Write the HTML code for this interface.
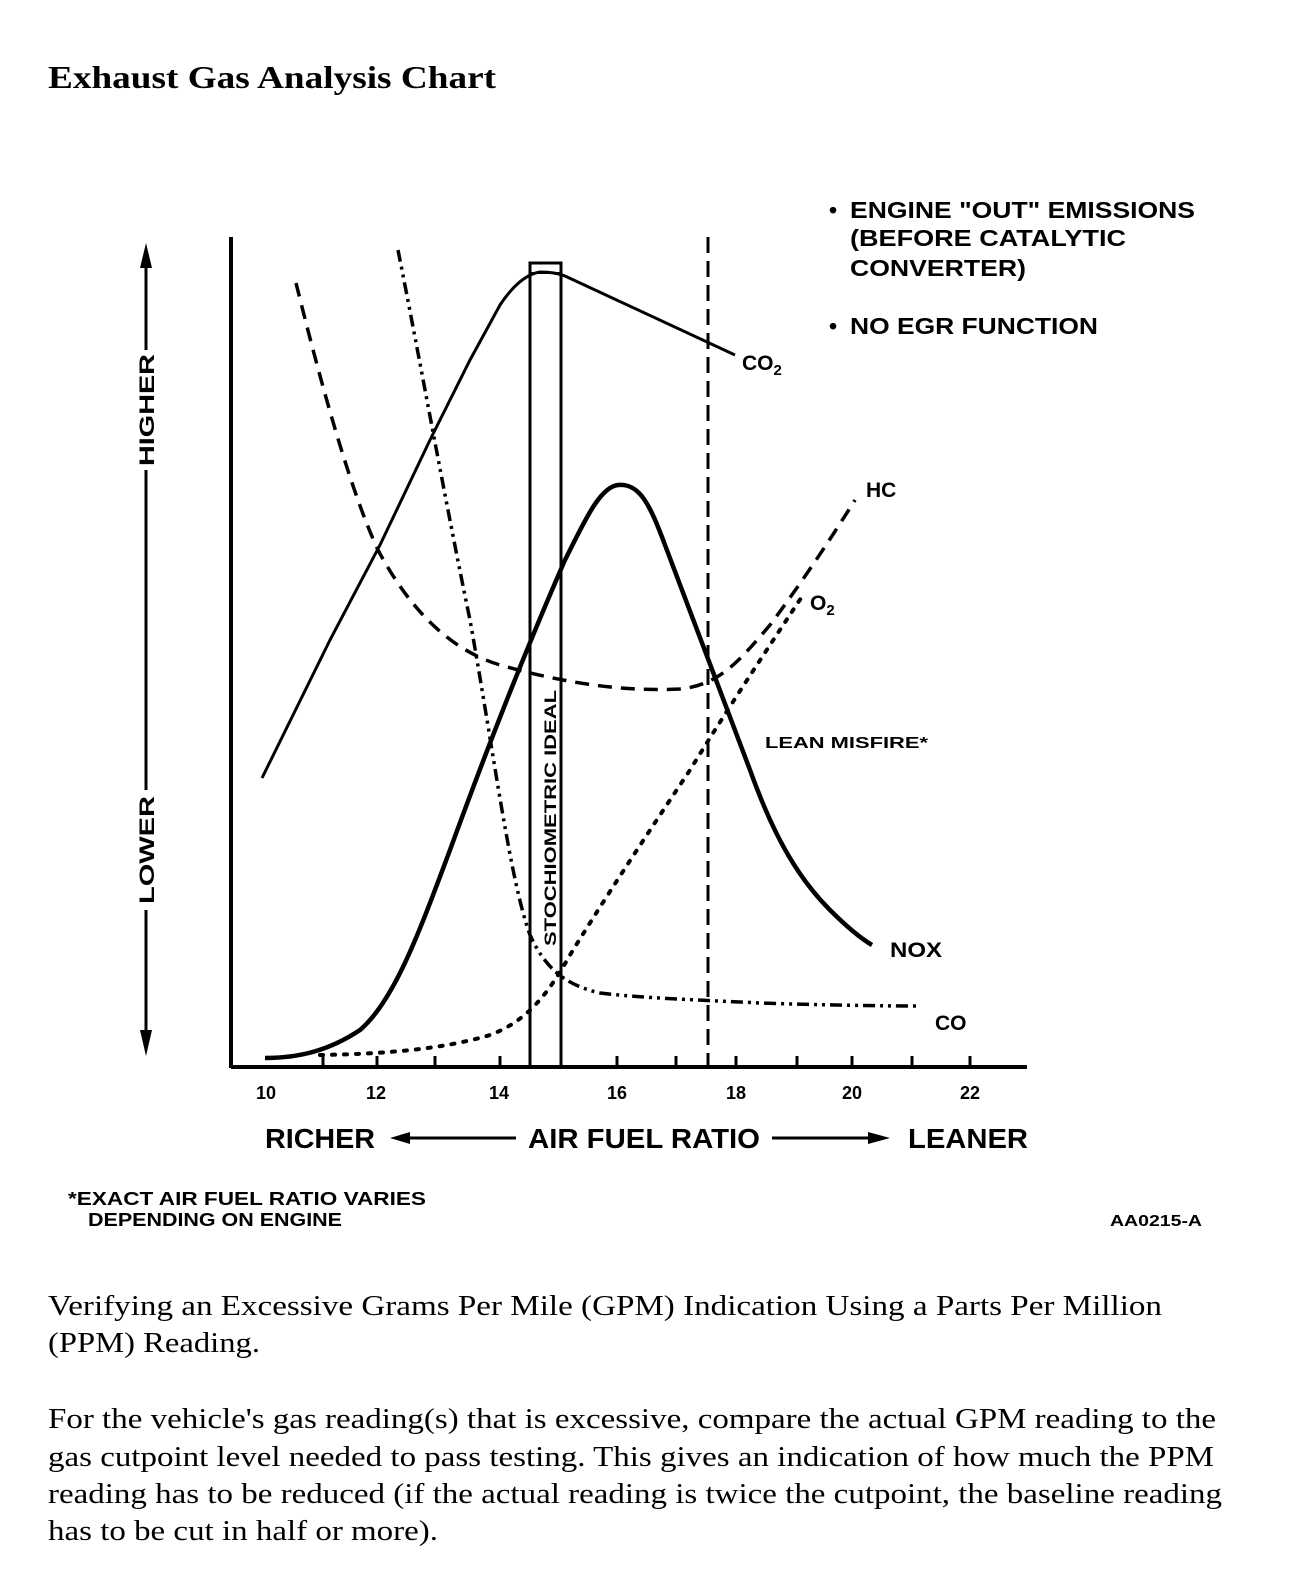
<!DOCTYPE html>
<html><head><meta charset="utf-8"><style>
html,body{margin:0;padding:0;background:#fff;}
svg{display:block;}
.t{font-family:"Liberation Serif",serif;}
.s{font-family:"Liberation Sans",sans-serif;font-weight:bold;}
</style></head><body>
<svg width="1312" height="1584" viewBox="0 0 1312 1584" xmlns="http://www.w3.org/2000/svg">
<text class="t" x="48" y="88" font-size="32" font-weight="bold" textLength="448" lengthAdjust="spacingAndGlyphs">Exhaust Gas Analysis Chart</text>

<!-- left arrow axis -->
<g stroke="#000" stroke-width="3" fill="none">
<line x1="146" y1="262" x2="146" y2="350"/>
<line x1="146" y1="470" x2="146" y2="790"/>
<line x1="146" y1="910" x2="146" y2="1035"/>
</g>
<polygon points="146,243 140,268 152,268" fill="#000"/>
<polygon points="146,1056 140,1030 152,1030" fill="#000"/>
<text class="s" transform="translate(154,410) rotate(-90)" font-size="21" text-anchor="middle" textLength="112" lengthAdjust="spacingAndGlyphs">HIGHER</text>
<text class="s" transform="translate(154,850) rotate(-90)" font-size="21" text-anchor="middle" textLength="108" lengthAdjust="spacingAndGlyphs">LOWER</text>

<!-- axes -->
<g stroke="#000" fill="none">
<line x1="231" y1="237" x2="231" y2="1068" stroke-width="4"/>
<line x1="231" y1="1067" x2="1027" y2="1067" stroke-width="4"/>
<g stroke-width="3">
<line x1="323" y1="1056" x2="323" y2="1067"/><line x1="377" y1="1056" x2="377" y2="1067"/>
<line x1="435" y1="1056" x2="435" y2="1067"/><line x1="500" y1="1056" x2="500" y2="1067"/>
<line x1="617" y1="1056" x2="617" y2="1067"/><line x1="676" y1="1056" x2="676" y2="1067"/>
<line x1="736" y1="1056" x2="736" y2="1067"/><line x1="797" y1="1056" x2="797" y2="1067"/>
<line x1="852" y1="1056" x2="852" y2="1067"/><line x1="912" y1="1056" x2="912" y2="1067"/>
<line x1="970" y1="1056" x2="970" y2="1067"/>
</g>
<!-- stoich box -->
<rect x="530" y="263" width="31" height="804" stroke-width="3"/>
<line x1="530" y1="273" x2="561" y2="273" stroke-width="2"/>
<!-- lean misfire dashed -->
<line x1="708" y1="237" x2="708" y2="1067" stroke-width="3" stroke-dasharray="16,8"/>

<!-- CO2 -->
<path d="M262,778 L330,640 L380,545 L430,440 L470,360 L500,305 Q520,275 540,272 Q555,272 565,276 L735,355" stroke-width="3"/>
<!-- HC dashed -->
<path d="M296,283 C320,380 350,490 378,550 C410,610 450,650 500,665 C560,682 620,692 680,689 C720,685 740,660 770,625 C800,585 830,540 855,500" stroke-width="3.5" stroke-dasharray="14,9"/>
<!-- CO dash-dot-dot -->
<path d="M398,250 C420,360 445,500 470,620 C495,760 510,880 530,935 C545,968 565,985 600,993 C640,998 700,1000 760,1003 C820,1005 880,1006 920,1006" stroke-width="3.5" stroke-dasharray="12,5,3,5,3,5"/>
<!-- NOx -->
<path d="M265,1058 C300,1058 330,1050 360,1030 C395,1000 420,930 450,850 C490,740 530,640 565,560 C585,520 600,487 618,485 C640,483 650,505 665,545 C690,610 720,690 750,770 C775,840 800,880 830,910 C845,925 860,938 872,945" stroke-width="4.5"/>
<!-- O2 dotted -->
<path d="M320,1055 C380,1054 440,1050 490,1035 C530,1020 550,990 570,955 C610,890 650,830 690,770 C730,705 770,645 805,592" stroke-width="4" stroke-dasharray="3,9" stroke-linecap="round"/>
</g>

<text class="s" transform="translate(556,818) rotate(-90)" font-size="17" text-anchor="middle" textLength="256" lengthAdjust="spacingAndGlyphs">STOCHIOMETRIC IDEAL</text>

<!-- curve labels -->
<text class="s" x="742" y="370" font-size="21">CO<tspan font-size="15" dy="5">2</tspan></text>
<text class="s" x="866" y="497" font-size="21">HC</text>
<text class="s" x="810" y="610" font-size="21">O<tspan font-size="15" dy="5">2</tspan></text>
<text class="s" x="765" y="748" font-size="16" textLength="163" lengthAdjust="spacingAndGlyphs">LEAN MISFIRE*</text>
<text class="s" x="890" y="957" font-size="21" textLength="52" lengthAdjust="spacingAndGlyphs">NOX</text>
<text class="s" x="935" y="1030" font-size="21">CO</text>

<!-- legend -->
<g class="s" font-size="23">
<text x="829" y="218">•</text>
<text x="850" y="218" textLength="345" lengthAdjust="spacingAndGlyphs">ENGINE "OUT" EMISSIONS</text>
<text x="850" y="246" textLength="276" lengthAdjust="spacingAndGlyphs">(BEFORE CATALYTIC</text>
<text x="850" y="276" textLength="176" lengthAdjust="spacingAndGlyphs">CONVERTER)</text>
<text x="829" y="334">•</text>
<text x="850" y="334" textLength="248" lengthAdjust="spacingAndGlyphs">NO EGR FUNCTION</text>
</g>

<!-- tick labels -->
<g class="s" font-size="18" text-anchor="middle">
<text x="266" y="1099">10</text><text x="376" y="1099">12</text><text x="499" y="1099">14</text>
<text x="617" y="1099">16</text><text x="736" y="1099">18</text><text x="852" y="1099">20</text><text x="970" y="1099">22</text>
</g>
<g class="s" font-size="28">
<text x="265" y="1148" textLength="110" lengthAdjust="spacingAndGlyphs">RICHER</text>
<text x="528" y="1148" textLength="232" lengthAdjust="spacingAndGlyphs">AIR FUEL RATIO</text>
<text x="908" y="1148" textLength="120" lengthAdjust="spacingAndGlyphs">LEANER</text>
</g>
<g stroke="#000" stroke-width="3">
<line x1="400" y1="1138" x2="516" y2="1138"/>
<line x1="772" y1="1138" x2="870" y2="1138"/>
</g>
<polygon points="390,1138 410,1132 410,1144" fill="#000"/>
<polygon points="890,1138 868,1132 868,1144" fill="#000"/>

<g class="s" font-size="18">
<text x="68" y="1205" textLength="358" lengthAdjust="spacingAndGlyphs">*EXACT AIR FUEL RATIO VARIES</text>
<text x="88" y="1226" textLength="254" lengthAdjust="spacingAndGlyphs">DEPENDING ON ENGINE</text>
<text x="1110" y="1226" font-size="16" textLength="92" lengthAdjust="spacingAndGlyphs">AA0215-A</text>
</g>

<g class="t" font-size="29">
<text x="48" y="1315" textLength="1114" lengthAdjust="spacingAndGlyphs">Verifying an Excessive Grams Per Mile (GPM) Indication Using a Parts Per Million</text>
<text x="48" y="1352" textLength="212" lengthAdjust="spacingAndGlyphs">(PPM) Reading.</text>
<text x="48" y="1428" textLength="1168" lengthAdjust="spacingAndGlyphs">For the vehicle's gas reading(s) that is excessive, compare the actual GPM reading to the</text>
<text x="48" y="1466" textLength="1166" lengthAdjust="spacingAndGlyphs">gas cutpoint level needed to pass testing. This gives an indication of how much the PPM</text>
<text x="48" y="1503" textLength="1174" lengthAdjust="spacingAndGlyphs">reading has to be reduced (if the actual reading is twice the cutpoint, the baseline reading</text>
<text x="48" y="1540" textLength="390" lengthAdjust="spacingAndGlyphs">has to be cut in half or more).</text>
</g>
</svg>
</body></html>
